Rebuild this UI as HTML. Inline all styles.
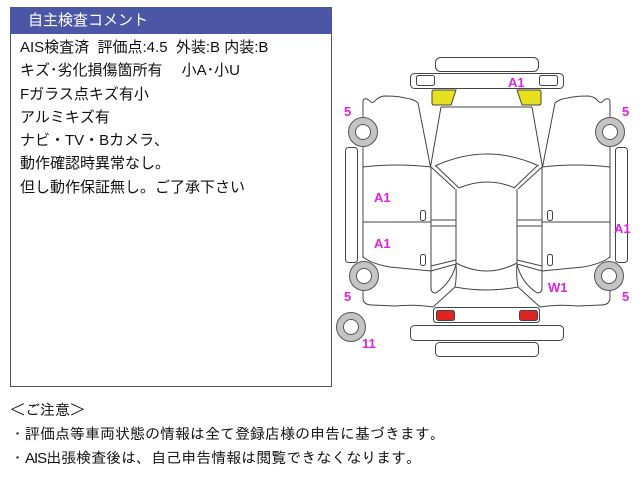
<!DOCTYPE html>
<html><head><meta charset="utf-8">
<style>
html,body{margin:0;padding:0;background:#fff;}
body{width:640px;height:480px;position:relative;overflow:hidden;font-family:"Liberation Sans","Noto Sans CJK JP",sans-serif;}
.box{position:absolute;left:10px;top:7px;width:320px;height:379px;border:1px solid #555;border-top:none;}
.hdr{position:absolute;left:10px;top:7px;width:322px;height:27px;background:#4b56a6;color:#fff;font-size:15px;line-height:27px;}
.hdr span{position:absolute;left:18px;top:0;}
.txt{position:absolute;left:20px;top:36px;font-size:15px;line-height:23.3px;color:#111;white-space:pre;}
.notes{position:absolute;left:10px;top:399px;font-size:15px;line-height:24px;color:#111;white-space:pre;font-family:"Liberation Sans","IPAGothic",sans-serif;}
svg{position:absolute;left:0;top:0;}
.lb{font-family:"Liberation Sans",sans-serif;font-weight:bold;font-size:13px;fill:#dc22dc;}
</style></head><body>
<div class="box"></div>
<div class="hdr"><span>自主検査コメント</span></div>
<div class="txt">AIS検査済  評価点:4.5  外装:B 内装:B
キズ･劣化損傷箇所有　 小A･小U
Fガラス点キズ有小
アルミキズ有
ナビ・TV・Bカメラ、
動作確認時異常なし。
但し動作保証無し。ご了承下さい</div>
<div class="notes">＜ご注意＞
・評価点等車両状態の情報は全て登録店様の申告に基づきます。
・<span style="letter-spacing:-1px">AIS</span>出張検査後は、自己申告情報は閲覧できなくなります。</div>

<svg width="640" height="480" viewBox="0 0 640 480">
<defs>
<g id="half" fill="none" stroke="#444" stroke-width="1">
 <path d="M363,117 L363,102 Q363,98 367,99 L370,101 Q372,104 375,101 Q378,97 384,96 Q398,96 405,98 Q414,99 418,103 L430.5,167"/>
 <path d="M441,107 L430.5,167"/>
 <path d="M363,167 Q397,163 431,167"/>
 <path d="M363,147 L363,258"/>
 <path d="M363,222 L431,222"/>
 <path d="M363,257 Q372,264 390,267 L431,271"/>
 <path d="M363,290 L363,299 Q364,305 372,305 L395,306 Q415,304 433,307"/>
 <rect x="420.5" y="210.5" width="5" height="10" rx="2"/>
 <rect x="420.5" y="254.5" width="5" height="11" rx="2"/>
 <path d="M431,167 L431,288 Q431,293 436,293"/>
 <path d="M456,189 L456,263"/>
 <path d="M431,220 L456,220 M431,226 L456,226"/>
 <path d="M431,167 L455,189 M436,166 L459,188"/>
 <path d="M431,266 L456,260 M431,271 L456,264"/>
 <path d="M456,264 Q452,282 436,293"/>
 <path d="M456,264 Q457,276 455,287 L433,307"/>
 <rect x="345.5" y="147.5" width="12" height="115" rx="3"/>
 <circle cx="363" cy="132" r="14.5" fill="#c4c4c4" stroke="#555"/>
 <circle cx="363" cy="132" r="7.5" fill="#fff" stroke="#555"/>
 <circle cx="364" cy="276" r="14.5" fill="#c4c4c4" stroke="#555"/>
 <circle cx="364" cy="276" r="7.5" fill="#fff" stroke="#555"/>
</g>
</defs>
<use href="#half"/>
<use href="#half" transform="matrix(-1,0,0,1,973,0)"/>
<g fill="none" stroke="#444" stroke-width="1">
 <path d="M435,166 Q487,142 539,166"/>
 <path d="M459,188 Q487,176 515,188"/>
 <path d="M456,263 Q487,279 517,263"/>
 <path d="M455,287 Q487,293 518,287"/>
 <path d="M441,107 L532,107"/>
 <rect x="435.5" y="57.5" width="103" height="14" rx="5"/>
 <rect x="410.5" y="73.5" width="153" height="15" rx="4"/>
 <rect x="416.5" y="75.5" width="18" height="10" rx="2"/>
 <rect x="539.5" y="75.5" width="18" height="10" rx="2"/>
 <path d="M434,90 L456,90 L451,105 L434,105 Q432,105 432,103 L432,92 Q432,90 434,90 Z" fill="#e6e020"/>
 <path d="M539,90 L517,90 L522,105 L539,105 Q541,105 541,103 L541,92 Q541,90 539,90 Z" fill="#e6e020"/>
 <rect x="433.5" y="307.5" width="106" height="15" rx="3"/>
 <rect x="436.5" y="310.5" width="18" height="10" rx="2" fill="#e02424"/>
 <rect x="519.5" y="310.5" width="18" height="10" rx="2" fill="#e02424"/>
 <rect x="410.5" y="325.5" width="153" height="15" rx="4"/>
 <rect x="435.5" y="342.5" width="103" height="14" rx="4"/>
 <circle cx="351" cy="327" r="14.5" fill="#c4c4c4" stroke="#555"/>
 <circle cx="351" cy="327" r="7.5" fill="#fff" stroke="#555"/>
</g>
<text class="lb" x="508" y="87">A1</text>
<text class="lb" x="344" y="116">5</text>
<text class="lb" x="622" y="116">5</text>
<text class="lb" x="374" y="202">A1</text>
<text class="lb" x="374" y="248">A1</text>
<text class="lb" x="614" y="233">A1</text>
<text class="lb" x="344" y="301">5</text>
<text class="lb" x="622" y="301">5</text>
<text class="lb" x="548" y="292">W1</text>
<text class="lb" x="362" y="348">11</text>
</svg>
</body></html>
